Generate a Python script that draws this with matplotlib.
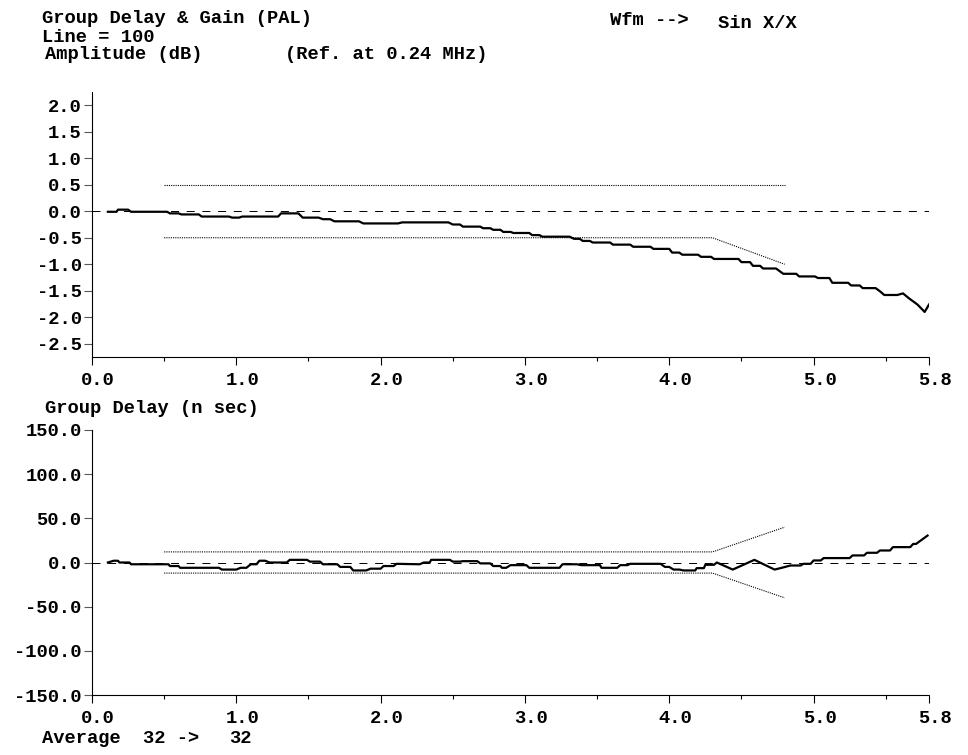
import matplotlib
matplotlib.use('Agg')
import matplotlib.pyplot as plt
import matplotlib.transforms as mtransforms
from matplotlib.ticker import FixedLocator, FuncFormatter

# amplitude response (dB)
amp_mhz = [0.11, 0.17, 0.18, 0.25, 0.27, 0.52, 0.54, 0.60, 0.62, 0.74,
           0.76, 0.95, 0.97, 1.02, 1.04, 1.29, 1.31, 1.43, 1.46, 1.57,
           1.60, 1.65, 1.68, 1.85, 1.88, 2.12, 2.15, 2.47, 2.50, 2.55,
           2.57, 2.69, 2.71, 2.76, 2.78, 2.83, 2.85, 2.90, 2.92, 3.03,
           3.05, 3.10, 3.12, 3.31, 3.34, 3.38, 3.40, 3.45, 3.47, 3.59,
           3.61, 3.73, 3.75, 3.87, 3.89, 4.00, 4.02, 4.07, 4.09, 4.20,
           4.22, 4.29, 4.31, 4.48, 4.50, 4.56, 4.58, 4.63, 4.65, 4.74,
           4.79, 4.88, 4.90, 5.01, 5.03, 5.11, 5.13, 5.24, 5.26, 5.32,
           5.34, 5.43, 5.46, 5.49, 5.58, 5.62, 5.66, 5.72, 5.77, 5.80]
amp_db = [-0.01, -0.01, 0.03, 0.03, -0.01, -0.01, -0.04, -0.04, -0.06, -0.06,
          -0.10, -0.10, -0.12, -0.12, -0.10, -0.10, -0.04, -0.04, -0.12, -0.12,
          -0.15, -0.15, -0.19, -0.19, -0.23, -0.23, -0.21, -0.21, -0.25, -0.25,
          -0.29, -0.29, -0.32, -0.32, -0.35, -0.35, -0.39, -0.39, -0.41, -0.41,
          -0.45, -0.45, -0.48, -0.48, -0.52, -0.52, -0.56, -0.56, -0.59, -0.59,
          -0.63, -0.63, -0.67, -0.67, -0.71, -0.71, -0.78, -0.78, -0.82, -0.82,
          -0.86, -0.86, -0.90, -0.90, -0.96, -0.96, -1.03, -1.03, -1.08, -1.08,
          -1.18, -1.18, -1.23, -1.23, -1.26, -1.26, -1.35, -1.35, -1.40, -1.40,
          -1.45, -1.45, -1.51, -1.58, -1.58, -1.55, -1.64, -1.76, -1.90, -1.76]

# group delay (ns)
gd_mhz = [0.11, 0.15, 0.18, 0.19, 0.26, 0.27, 0.53, 0.54, 0.60, 0.61,
          0.88, 0.90, 1.00, 1.03, 1.07, 1.10, 1.14, 1.16, 1.20, 1.23,
          1.35, 1.37, 1.49, 1.51, 1.58, 1.60, 1.70, 1.72, 1.79, 1.81,
          1.90, 1.93, 2.00, 2.02, 2.09, 2.11, 2.27, 2.30, 2.34, 2.35,
          2.48, 2.50, 2.55, 2.57, 2.67, 2.69, 2.76, 2.78, 2.83, 2.84,
          2.87, 2.90, 3.01, 3.03, 3.24, 3.26, 3.36, 3.39, 3.52, 3.53,
          3.64, 3.66, 3.71, 3.73, 3.94, 3.97, 4.00, 4.03, 4.07, 4.10,
          4.18, 4.19, 4.24, 4.25, 4.31, 4.33, 4.44, 4.59, 4.73, 4.78,
          4.84, 4.91, 4.93, 4.98, 5.00, 5.05, 5.07, 5.25, 5.27, 5.35,
          5.37, 5.44, 5.46, 5.53, 5.55, 5.67, 5.69, 5.71, 5.79]
gd_ns = [0, 2, 2, 0, 0, -2, -2, -4, -4, -6,
         -6, -8, -8, -6, -6, -2, -2, 2, 2, 0,
         0, 3, 3, 1, 1, -2, -2, -5, -5, -9,
         -9, -7, -7, -4, -4, -1.5, -2, 0, 0, 3,
         3, 1, 1, 1.5, 1.5, -1, -1, -4, -4, -6,
         -6, -3, -3, -6, -6, -2, -2, -3, -3, -6,
         -6, -3, -3, -1.5, -1.5, -5, -5, -8, -8, -9,
         -9, -6.4, -6.4, -2.6, -2.6, 0, -8, 3, -8, -6,
         -3.4, -3.4, -1.5, -1.5, 2.3, 2.3, 5, 5, 8, 8,
         11, 11, 13.6, 13.6, 17.4, 17.4, 21, 21, 30.5]

# limit masks
amp_up_mhz = [0.5, 4.8]
amp_up_db = [0.5, 0.5]
amp_lo_mhz = [0.5, 4.3, 4.8]
amp_lo_db = [-0.5, -0.5, -1.0]
gd_lim_mhz = [0.5, 4.3, 4.8]
gd_up_ns = [12, 12, 40]
gd_lo_ns = [-12, -12, -40]

x_ticks = [0.0, 1.0, 2.0, 3.0, 4.0, 5.0, 5.8]
x_minor = [0.5, 1.5, 2.5, 3.5, 4.5, 5.5]
amp_ticks = [2.0, 1.5, 1.0, 0.5, 0.0, -0.5, -1.0, -1.5, -2.0, -2.5]
gd_ticks = [150, 100, 50, 0, -50, -100, -150]

FONT = 'Liberation Mono'
FS = 13.5
W, H = 968, 755

plt.rcParams['font.family'] = FONT
plt.rcParams['font.weight'] = 'bold'
plt.rcParams['font.size'] = FS

fig = plt.figure(figsize=(W / 100, H / 100), dpi=100)


def fig_text(x, y, s):
    # x, y in pixels from the top-left corner, y is the baseline
    fig.text(x / W, 1 - y / H, s, ha='left', va='baseline',
             fontsize=FS, fontweight='bold')


def style_axes(ax, ylim, yticks):
    ax.set_xlim(0, 5.8)
    ax.set_ylim(*ylim)
    for side in ('top', 'right'):
        ax.spines[side].set_visible(False)
    for side in ('left', 'bottom'):
        ax.spines[side].set_linestyle((0, (1, 1)))
        ax.spines[side].set_linewidth(0.8)
    ax.xaxis.set_major_locator(FixedLocator(x_ticks))
    ax.xaxis.set_minor_locator(FixedLocator(x_minor))
    ax.xaxis.set_major_formatter(FuncFormatter(lambda v, p: '%.1f' % v))
    ax.yaxis.set_major_locator(FixedLocator(yticks))
    ax.yaxis.set_major_formatter(FuncFormatter(lambda v, p: '%.1f' % v))
    ax.tick_params(axis='x', which='major', length=6, width=0.8,
                   direction='out', pad=5, labelsize=FS)
    ax.tick_params(axis='x', which='minor', length=3, width=0.8,
                   direction='out')
    ax.tick_params(axis='y', which='major', length=5.5, width=0.8,
                   direction='out', pad=2, labelsize=FS, color='0.35')
    shift = mtransforms.ScaledTranslation(6 / 100, 0, fig.dpi_scale_trans)
    for lbl in ax.get_xticklabels():
        lbl.set_transform(lbl.get_transform() + shift)
        lbl.set_fontweight('bold')
    for lbl in ax.get_yticklabels():
        lbl.set_fontweight('bold')
    ax.plot([0, 5.8], [0, 0], color='black', lw=0.72,
            linestyle=(0, (8, 7.7)))


# amplitude panel
ax1 = fig.add_axes([92 / W, 1 - 357 / H, 837 / W, 265 / H])
style_axes(ax1, (-2.75, 2.25), amp_ticks)
ax1.plot(amp_up_mhz, amp_up_db, color='black', lw=0.8, linestyle=(0, (1, 1)))
ax1.plot(amp_lo_mhz, amp_lo_db, color='black', lw=0.8, linestyle=(0, (1, 1)))
ax1.plot(amp_mhz, amp_db, color='black', lw=1.6)

# group delay panel
ax2 = fig.add_axes([92 / W, 1 - 695 / H, 837 / W, 265 / H])
style_axes(ax2, (-150, 150), gd_ticks)
ax2.plot(gd_lim_mhz, gd_up_ns, color='black', lw=0.8, linestyle=(0, (1, 1)))
ax2.plot(gd_lim_mhz, gd_lo_ns, color='black', lw=0.8, linestyle=(0, (1, 1)))
ax2.plot(gd_mhz, gd_ns, color='black', lw=1.6)

# header and captions
fig_text(42, 23, 'Group Delay & Gain (PAL)')
fig_text(42, 42, 'Line = 100')
fig_text(45, 59, 'Amplitude (dB)')
fig_text(285, 59, '(Ref. at 0.24 MHz)')
fig_text(610, 25, 'Wfm -->')
fig_text(718, 28, 'Sin X/X')
fig_text(45, 413, 'Group Delay (n sec)')
fig_text(42, 743, 'Average')
fig_text(143, 743, '32 ->')
fig_text(229, 743, '32')

fig.savefig('out.png', dpi=100)
